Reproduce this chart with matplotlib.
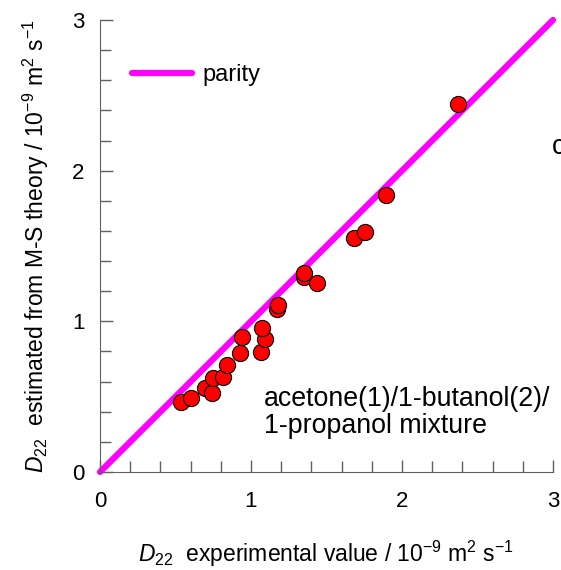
import numpy as np
import matplotlib.pyplot as plt
from matplotlib.ticker import MultipleLocator

plt.rcParams['font.family'] = 'Liberation Sans'
plt.rcParams['mathtext.fontset'] = 'custom'
plt.rcParams['mathtext.rm'] = 'Liberation Sans'
plt.rcParams['mathtext.it'] = 'Liberation Sans:italic'

# experimental vs. M-S estimated D22 (10^-9 m2/s)
d22_exp = [0.534, 0.601, 0.695, 0.740, 0.750, 0.817, 0.839, 0.927, 0.938, 1.064,
           1.093, 1.071, 1.174, 1.181, 1.351, 1.351, 1.439, 1.684, 1.755, 1.892, 2.373]
d22_ms = [0.466, 0.493, 0.555, 0.526, 0.622, 0.628, 0.708, 0.788, 0.894, 0.798,
          0.881, 0.954, 1.080, 1.108, 1.296, 1.322, 1.252, 1.551, 1.591, 1.838, 2.442]
parity = [0, 3]

fig = plt.figure(figsize=(5.61, 5.70), dpi=100)
ax = fig.add_axes([100/561, 98/570, 453/561, 452/570])

ax.plot(parity, parity, color='#ff00ff', lw=4.5, solid_capstyle='round',
        clip_on=False, label='parity', zorder=2)
ax.scatter(d22_exp, d22_ms, s=135, facecolor='#ff0000', edgecolor='black',
           linewidth=0.8, zorder=3, clip_on=False)

ax.set_xlim(0, 3)
ax.set_ylim(0, 3)
ax.xaxis.set_major_locator(MultipleLocator(1))
ax.yaxis.set_major_locator(MultipleLocator(1))
ax.xaxis.set_minor_locator(MultipleLocator(0.2))
ax.yaxis.set_minor_locator(MultipleLocator(0.2))
ax.tick_params(which='both', direction='in', color='#606060', width=1,
               labelsize=16)
ax.tick_params(axis='x', pad=14)
ax.tick_params(axis='y', pad=11)
ax.tick_params(which='major', length=9)
ax.tick_params(which='minor', length=8)
for s in ['top', 'right']:
    ax.spines[s].set_visible(False)
for s in ['left', 'bottom']:
    ax.spines[s].set_color('#606060')

ax.set_xlabel(r'$\mathit{D}_{22}$  experimental value / 10$^{-9}$ m$^2$ s$^{-1}$',
              fontsize=16.5, labelpad=19)
ax.set_ylabel(r'$\mathit{D}_{22}$  estimated from M-S theory / 10$^{-9}$ m$^2$ s$^{-1}$',
              fontsize=16.5, labelpad=15)

ax.legend(loc='upper left', bbox_to_anchor=(0.023, 0.95), frameon=False,
          fontsize=17, handlelength=2.55, handletextpad=0.45)

ax.text(1.086, 0.259, 'acetone(1)/1-butanol(2)/\n1-propanol mixture',
        fontsize=19.3, ha='left', va='baseline', linespacing=1.05)
ax.text(2.993, 2.157, 'c', fontsize=19.3, ha='left', va='center', clip_on=False)

fig.savefig('out.png', dpi=100)
